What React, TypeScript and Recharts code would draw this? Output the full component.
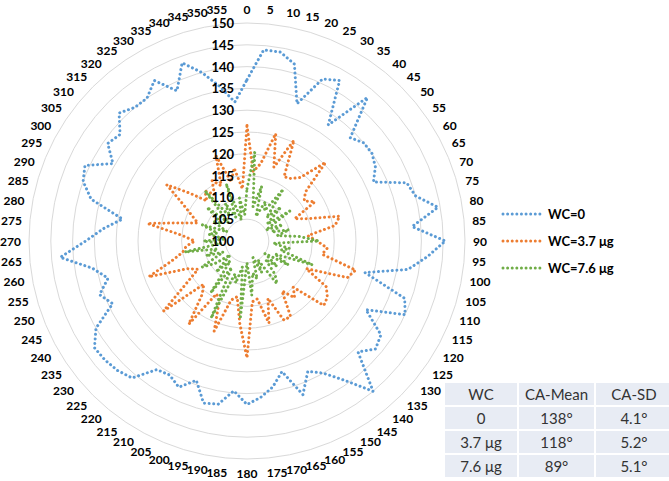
import React from "react"
import { RadarChart, Radar, PolarGrid, PolarAngleAxis, PolarRadiusAxis, Legend } from "recharts"

const angles = [
  0, 5, 10, 15, 20, 25, 30, 35, 40, 45, 50, 55, 60, 65, 70, 75, 80, 85,
  90, 95, 100, 105, 110, 115, 120, 125, 130, 135, 140, 145, 150, 155, 160, 165, 170, 175,
  180, 185, 190, 195, 200, 205, 210, 215, 220, 225, 230, 235, 240, 245, 250, 255, 260, 265,
  270, 275, 280, 285, 290, 295, 300, 305, 310, 315, 320, 325, 330, 335, 340, 345, 350, 355,
]

const wc0 = [
  137, 144, 144, 142, 133.5, 141, 142.5, 132.5, 143, 133.5, 135, 135, 134, 132, 139, 140, 144.5, 138,
  145.5, 141.5, 137.5, 128, 138.5, 140, 131.5, 137.5, 138.5, 136, 145, 139, 135, 133, 137.5, 131, 134, 136,
  137.5, 134.5, 138, 138.5, 134, 137, 135.5, 136, 141, 142, 142.5, 142.7, 140, 134, 136, 133, 136, 143,
  137, 133, 129, 137, 140, 141, 135.5, 139, 138, 141.5, 140, 140, 142.5, 138, 143.5, 140, 136, 132,
]

const wc37 = [
  126.5, 116, 118, 125.5, 118, 125.5, 117, 117.5, 119, 125.5, 117.5, 116, 118, 112, 115, 122, 120.5, 114,
  116, 118.5, 117.5, 125.8, 124.5, 115, 121, 122.5, 123, 115, 117, 114, 120, 120, 114, 119.5, 113.5, 114,
  126.8, 119, 113, 114, 122, 115, 114, 123.3, 116, 114, 125, 117, 113, 115, 124, 118, 115, 114,
  112, 115, 123.2, 116, 112, 114, 117, 122.5, 117, 113, 115, 113, 116, 114, 120.8, 114, 117, 112,
]

const wc76 = [
  112, 120.5, 108, 113, 106, 110, 108, 114.5, 107, 111, 106, 112, 105, 109, 106, 110, 107, 112,
  116.5, 106, 110, 108, 116, 107, 111, 105, 109, 106, 110, 112, 105, 108, 104, 109, 107.5, 112.5,
  105, 118, 106, 110, 108, 119.5, 107, 114.5, 106, 110, 105, 109, 112, 106, 110, 107, 114.5, 106,
  110, 105, 109, 107, 111, 105, 109, 107, 112, 106, 115, 107, 110, 106, 114, 105, 110, 106,
]

const radiusTicks = [100, 105, 110, 115, 120, 125, 130, 135, 140, 145, 150]

const tableHeader = ["WC", "CA-Mean", "CA-SD"]
const tableRows = [
  ["0", "138°", "4.1°"],
  ["3.7 μg", "118°", "5.2°"],
  ["7.6 μg", "89°", "5.1°"],
]

const data = angles.map((a, i) => ({ angle: a, wc0: wc0[i], wc37: wc37[i], wc76: wc76[i] }))

const dotted = "0.01 4.6"

function AngleTick(props: any) {
  const { x, y, textAnchor, payload } = props
  const rad = (Number(payload.value) * Math.PI) / 180
  return (
    <text
      x={x}
      y={y - Math.cos(rad) * 6}
      textAnchor={textAnchor}
      dominantBaseline="central"
      fontSize={12}
      fontWeight="bold"
      fontFamily="Lato"
      fill="#000"
    >
      {payload.value}
    </text>
  )
}

function RadiusTick(props: any) {
  const { x, y, payload } = props
  return (
    <text
      x={x - 13}
      y={y}
      textAnchor="end"
      dominantBaseline="central"
      fontSize={13}
      fontWeight="bold"
      fontFamily="Lato"
      fill="#000"
    >
      {payload.value}
    </text>
  )
}

function LegendContent(props: any) {
  const { payload } = props
  return (
    <div>
      {(payload || []).map((entry: any) => (
        <div key={entry.value} style={{ display: "flex", alignItems: "center", height: 27 }}>
          <svg width={44} height={6}>
            <line
              x1={3}
              y1={3}
              x2={41}
              y2={3}
              stroke={entry.color}
              strokeWidth={3}
              strokeDasharray={dotted}
              strokeLinecap="round"
            />
          </svg>
          <span style={{ marginLeft: 4, font: "bold 13px Lato", color: "#000" }}>{entry.value}</span>
        </div>
      ))}
    </div>
  )
}

export default function App() {
  return (
    <div
      style={{
        position: "fixed",
        left: 0,
        top: 0,
        width: 669,
        height: 481,
        background: "#fff",
        overflow: "hidden",
      }}
    >
      <RadarChart width={669} height={481} data={data} cx={247} cy={241} outerRadius={218}>
        <PolarGrid gridType="circle" radialLines={false} stroke="#d9d9d9" />
        <PolarAngleAxis dataKey="angle" tick={<AngleTick />} tickLine={false} axisLine={false} tickSize={8} />
        <Radar
          name="WC=0"
          dataKey="wc0"
          stroke="#5b9bd5"
          strokeWidth={3}
          strokeDasharray={dotted}
          strokeLinecap="round"
          fill="none"
          fillOpacity={0}
          dot={false}
          isAnimationActive={false}
        />
        <Radar
          name="WC=3.7 μg"
          dataKey="wc37"
          stroke="#ed7d31"
          strokeWidth={3}
          strokeDasharray={dotted}
          strokeLinecap="round"
          fill="none"
          fillOpacity={0}
          dot={false}
          isAnimationActive={false}
        />
        <Radar
          name="WC=7.6 μg"
          dataKey="wc76"
          stroke="#70ad47"
          strokeWidth={3}
          strokeDasharray={dotted}
          strokeLinecap="round"
          fill="none"
          fillOpacity={0}
          dot={false}
          isAnimationActive={false}
        />
        <PolarRadiusAxis
          angle={90}
          type="number"
          domain={[100, 150]}
          ticks={radiusTicks}
          tickCount={11}
          axisLine={false}
          tick={<RadiusTick />}
        />
        <Legend
          layout="vertical"
          content={<LegendContent />}
          wrapperStyle={{ position: "absolute", left: 500, top: 200, width: 160 }}
        />
      </RadarChart>
      <div
        style={{
          position: "absolute",
          left: 445,
          top: 383,
          display: "grid",
          gridTemplateColumns: "72px 75px 76px",
          gridAutoRows: "22px",
          gap: 2,
          background: "#fff",
          fontFamily: "Lato",
          fontSize: 15,
          color: "#333",
        }}
      >
        {[tableHeader, ...tableRows].flatMap((row, r) =>
          row.map((cell, c) => (
            <div
              key={r + "-" + c}
              style={{
                background: "#e8ecf4",
                display: "flex",
                alignItems: "center",
                justifyContent: "center",
              }}
            >
              {cell}
            </div>
          ))
        )}
      </div>
    </div>
  )
}
